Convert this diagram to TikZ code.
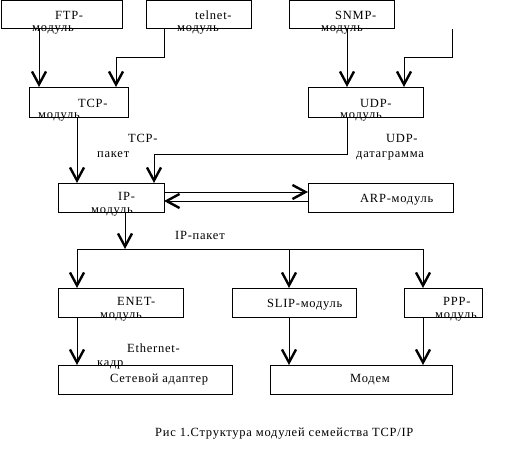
\documentclass[tikz,border=0pt]{standalone}
\usepackage{fontspec}
\setmainfont{Liberation Serif}[LetterSpace=6]
\usetikzlibrary{arrows.meta}
\begin{document}
\begin{tikzpicture}[x=1pt,y=-1pt,
  box/.style={draw, line width=1pt, inner sep=0pt, outer sep=0pt},
  lbl/.style={anchor=base west, inner sep=0pt, font=\fontsize{12.5}{14}\selectfont},
  conn/.style={line width=1pt},
  arr/.style={conn, -{Straight Barb[length=13pt, width=14pt, line width=2.4pt]}}]
\fill[white] (0,0) rectangle (511,452);
\useasboundingbox (0,0) rectangle (511,452);
% boxes
\node[box, minimum width=121pt, minimum height=28pt] (ftp) at (61.5,15) {};
\node[box, minimum width=105pt, minimum height=28pt] (telnet) at (198.5,15) {};
\node[box, minimum width=105pt, minimum height=28pt] (snmp) at (341.5,15) {};
\node[box, minimum width=99pt, minimum height=30pt] (tcp) at (78.5,102) {};
\node[box, minimum width=115pt, minimum height=30pt] (udp) at (365.5,102) {};
\node[box, minimum width=106pt, minimum height=29pt] (ip) at (111,197.5) {};
\node[box, minimum width=145pt, minimum height=29pt] (arp) at (380.5,197.5) {};
\node[box, minimum width=125pt, minimum height=29pt] (enet) at (120.5,302.5) {};
\node[box, minimum width=124pt, minimum height=29pt] (slip) at (294,302.5) {};
\node[box, minimum width=78pt, minimum height=29pt] (ppp) at (443,302.5) {};
\node[box, minimum width=174pt, minimum height=29pt] (adapter) at (145,379.5) {};
\node[box, minimum width=182pt, minimum height=29pt] (modem) at (361,379.5) {};
% free end and bus
\coordinate (free) at (452,29);
\coordinate (busL) at (77,249);
\coordinate (busR) at (423,249);
% connectors
\draw[arr] (ftp.south -| 39,0) -- (tcp.north -| 39,0);
\draw[arr] (telnet.south -| 164,0) -- (164,58) -- (116,58) -- (tcp.north -| 116,0);
\draw[arr] (snmp.south -| 347,0) -- (udp.north -| 347,0);
\draw[arr] (free) -- (452,58) -- (404,58) -- (udp.north -| 404,0);
\draw[arr] (tcp.south -| 77,0) -- (ip.north -| 77,0);
\draw[arr] (udp.south -| 347,0) -- (347,154) -- (154,154) -- (ip.north -| 154,0);
\draw[arr] (ip.east |- 0,192) -- (arp.west |- 0,192);
\draw[arr] (arp.west |- 0,201) -- (ip.east |- 0,201);
\draw[arr] (ip.south -| 125,0) -- (busL -| 125,0);
\draw[conn] (busL) -- (busR);
\draw[arr] (busL) -- (enet.north -| busL);
\draw[arr] (busL -| 289,0) -- (slip.north -| 289,0);
\draw[arr] (busR) -- (ppp.north -| busR);
\draw[arr] (enet.south -| 77,0) -- (adapter.north -| 77,0);
\draw[arr] (slip.south -| 289,0) -- (modem.north -| 289,0);
\draw[arr] (ppp.south -| 423,0) -- (modem.north -| 423,0);
% labels
\node[lbl] (t1) at (55,20) {FTP-};
\node[lbl] (t1m) at (32,32) {модуль};
\node[lbl] (t2) at (195,20) {telnet-};
\node[lbl] (t2m) at (177,32) {модуль};
\node[lbl] (t3) at (335,20) {SNMP-};
\node[lbl] (t3m) at (321,32) {модуль};
\node[lbl] (t4) at (78,107) {TCP-};
\node[lbl] (t4m) at (38,118) {модуль};
\node[lbl] (t5) at (360,107) {UDP-};
\node[lbl] (t5m) at (340,118) {модуль};
\node[lbl] (p1) at (128,142) {TCP-};
\node[lbl] (p1b) at (97,157) {пакет};
\node[lbl] (p2) at (386,142) {UDP-};
\node[lbl] (p2b) at (356,157) {датаграмма};
\node[lbl] (t6) at (118,200) {IP-};
\node[lbl] (t6m) at (91,213) {модуль};
\node[lbl] (t7) at (360,202) {ARP-модуль};
\node[lbl] (p3) at (175,239) {IP-пакет};
\node[lbl] (t8) at (117,305) {ENET-};
\node[lbl] (t8m) at (100,318) {модуль};
\node[lbl] (t9) at (267,307) {SLIP-модуль};
\node[lbl] (t10) at (443,305) {PPP-};
\node[lbl] (t10m) at (435,318) {модуль};
\node[lbl] (p4) at (127,352) {Ethernet-};
\node[lbl] (p4b) at (97,366) {кадр};
\node[lbl] (t11) at (110,382) {Сетевой адаптер};
\node[lbl] (t12) at (350,382) {Модем};
\node[lbl] (cap) at (155,436) {Рис 1.Структура модулей семейства TCP/IP};
\end{tikzpicture}
\end{document}
